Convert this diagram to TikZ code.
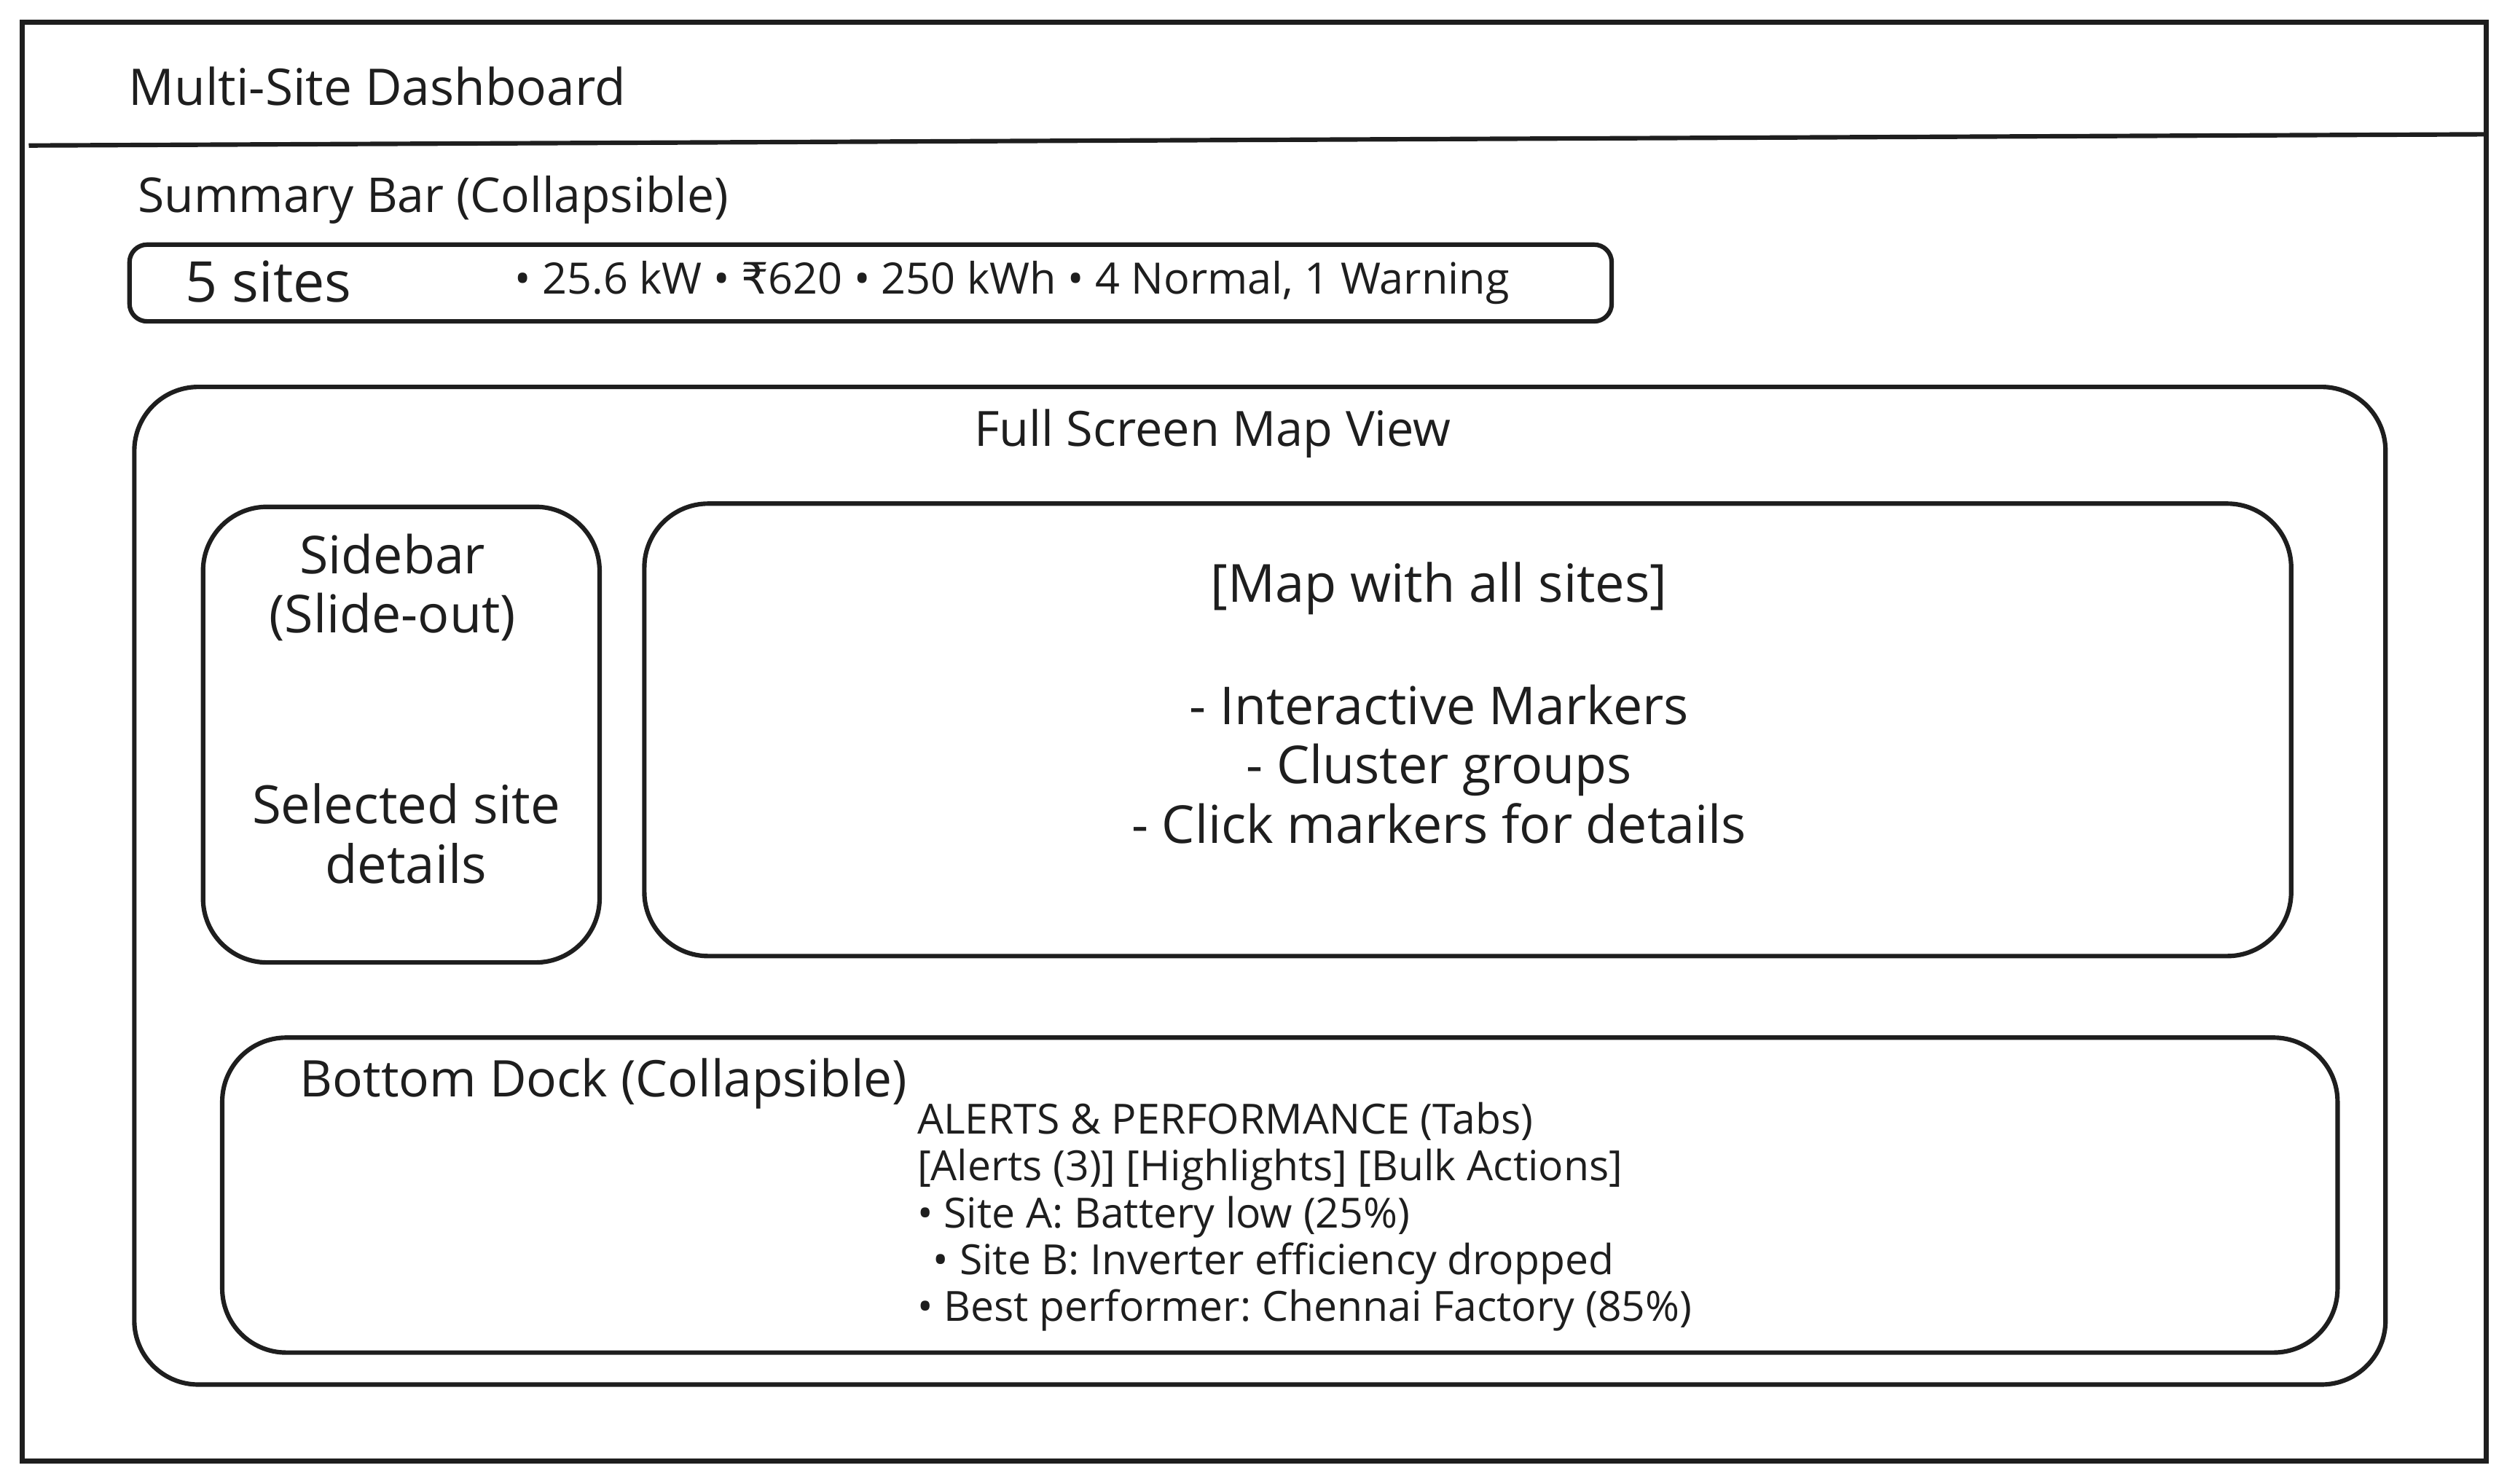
\documentclass[tikz,border=0pt]{standalone}
\usepackage{fontspec}
\setmainfont{Open Sans}
\newfontfamily\rupeefont{DejaVu Sans}
\definecolor{sketchink}{RGB}{30, 30, 30}
\frenchspacing

\begin{document}
\begin{tikzpicture}[
    x=1cm, y=1cm,
    every node/.style={text=sketchink},
    box/.style={rectangle, draw=sketchink, line width=0.8pt, inner sep=0pt, outer sep=0pt, rounded corners=4mm},
    barbox/.style={box, rounded corners=1.1mm},
    frame/.style={rectangle, draw=sketchink, line width=0.9pt, inner sep=0pt, outer sep=0pt},
    label/.style={font=\fontsize{#1}{10.6}\selectfont, align=center, inner sep=0pt},
    small/.style={font=\fontsize{#1}{8.3}\selectfont, align=left, inner sep=0pt}
]
    \useasboundingbox (0,0) rectangle (15.68,-9.278);

    % Outer Frame
    \node[frame, minimum width=15.41cm, minimum height=9cm] (screen) at (7.845,-4.64) {};
    \coordinate (headleft) at (0.18,-0.91);
    \coordinate (headright) at (15.55,-0.84);
    \draw[sketchink, line width=0.8pt] (headleft) -- (headright);
    \node[label=9] (title) at (2.36,-0.54) {Multi-Site Dashboard};

    % Summary Bar
    \node[label=8.55] (summary) at (2.71,-1.25) {Summary Bar (Collapsible)};
    \node[barbox, minimum width=9.27cm, minimum height=0.48cm] (bar) at (5.445,-1.77) {};
    \node[label=10] (count) at (1.68,-1.76) {5 sites};
    \node[small=7.7] (stats) at (6.33,-1.77) {• 25.6 kW • {\rupeefont ₹}620 • 250 kWh • 4 Normal, 1 Warning};

    % Map View
    \node[box, minimum width=14.08cm, minimum height=6.24cm] (view) at (7.88,-5.54) {};
    \node[label=8.65] (viewtitle) at (7.585,-2.71) {Full Screen Map View};
    \node[box, minimum width=2.48cm, minimum height=2.85cm] (sidebar) at (2.51,-4.595) {};
    \node[label=9.3] (sidetitle) at (2.455,-3.675) {Sidebar\\(Slide-out)};
    \node[label=9.4] (sidetext) at (2.54,-5.215) {Selected site\\details};
    \node[box, minimum width=10.30cm, minimum height=2.83cm] (map) at (9.18,-4.565) {};
    \node[label=9.35] (maptitle) at (9.00,-3.68) {[Map with all sites]};
    \node[label=9.3] (maptext) at (9.00,-4.78) {- Interactive Markers\\- Cluster groups\\- Click markers for details};

    % Bottom Dock
    \node[box, minimum width=13.23cm, minimum height=1.97cm] (dock) at (8.005,-7.475) {};
    \node[label=9] (docktitle) at (3.775,-6.78) {Bottom Dock (Collapsible)};
    \node[small=7.4, anchor=north west] (docktext) at (5.73,-6.89) {ALERTS \& PERFORMANCE (Tabs)\\\relax [Alerts (3)] [Highlights] [Bulk Actions]\\• Site A: Battery low (25\%)\\\hspace*{0.1cm}• Site B: Inverter efficiency dropped\\• Best performer: Chennai Factory (85\%)};
\end{tikzpicture}
\end{document}
